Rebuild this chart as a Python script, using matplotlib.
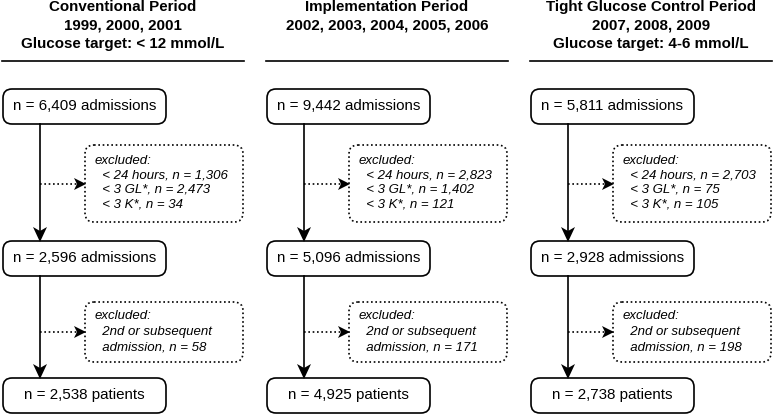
import matplotlib
matplotlib.use('Agg')
import numpy as np
import matplotlib.pyplot as plt
from matplotlib.patches import FancyBboxPatch

plt.rcParams['font.family'] = ['Liberation Sans', 'DejaVu Sans']

# ── data ─────────────────────────────────────────────
TITLES = [
    ['Conventional Period', '1999, 2000, 2001', 'Glucose target: < 12 mmol/L'],
    ['Implementation Period', '2002, 2003, 2004, 2005, 2006'],
    ['Tight Glucose Control Period', '2007, 2008, 2009', 'Glucose target: 4-6 mmol/L'],
]
N_START = ['6,409', '9,442', '5,811']
EXCL_24H = ['1,306', '2,823', '2,703']
EXCL_GL = ['2,473', '1,402', '75']
EXCL_K = ['34', '121', '105']
N_MID = ['2,596', '5,096', '2,928']
EXCL_READM = ['58', '171', '198']
N_END = ['2,538', '4,925', '2,738']

# ── layout (pixel coords) ────────────────────────────
W, H = 778, 416
fig = plt.figure(figsize=(W / 100, H / 100), dpi=100)
ax = fig.add_axes([0, 0, 1, 1])
ax.set_xlim(0, W); ax.set_ylim(H, 0); ax.axis('off')

COL_X = [3, 267, 531]
BOX_W, BOX_H = 163, 35
EX_DX, EX_W = 82, 158
LW = 1.2
DOT = (0, (1, 1.6))


def box(x, y, w, h, dotted=False):
    p = FancyBboxPatch((x, y), w, h, boxstyle='round,pad=0,rounding_size=9',
                       fc='white', ec='black', lw=LW, ls=DOT if dotted else '-')
    ax.add_patch(p)


def arrow(p0, p1, dotted=False, hl=15, hw=7, notch=4):
    # line + stealth-shaped head
    p0 = np.array(p0, float); p1 = np.array(p1, float)
    d = (p1 - p0) / np.linalg.norm(p1 - p0)
    n = np.array([-d[1], d[0]])
    base = p1 - d * hl
    ax.plot([p0[0], base[0] + d[0] * notch], [p0[1], base[1] + d[1] * notch],
            color='black', lw=LW, ls=DOT if dotted else '-', zorder=3)
    pts = np.array([p1, base + n * hw, base + d * notch, base - n * hw])
    ax.fill(pts[:, 0], pts[:, 1], color='black', lw=0, zorder=4)


for i, x0 in enumerate(COL_X):
    cx = x0 + 120
    for j, t in enumerate(TITLES[i]):
        ax.text(cx, 7 + j * 18.5, t, ha='center', va='center',
                fontsize=10.9, fontweight='bold')
    ax.plot([x0 - 1, x0 + 241], [61, 61], color='black', lw=LW)

    vx = x0 + 37
    # main boxes
    for yb, txt in [(89, f'n = {N_START[i]} admissions'),
                    (241, f'n = {N_MID[i]} admissions'),
                    (378, f'n = {N_END[i]} patients')]:
        box(x0, yb, BOX_W, BOX_H)
        ax.text(x0 + BOX_W / 2, yb + BOX_H / 2, txt, ha='center', va='center',
                fontsize=10.9)
    arrow((vx, 124), (vx, 242))
    arrow((vx, 276), (vx, 379))

    # exclusion boxes
    ex = x0 + EX_DX
    box(ex, 145, EX_W, 77, dotted=True)
    arrow((vx, 184), (ex + 1, 184), dotted=True, hl=12, hw=6, notch=3)
    lines = ['excluded:', f'  < 24 hours, n = {EXCL_24H[i]}',
             f'  < 3 GL*, n = {EXCL_GL[i]}', f'  < 3 K*, n = {EXCL_K[i]}']
    for k, t in enumerate(lines):
        ax.text(ex + 10, 161 + k * 14.5, t, ha='left', va='center',
                fontsize=9.5, style='italic')

    box(ex, 302, EX_W, 60, dotted=True)
    arrow((vx, 332), (ex + 1, 332), dotted=True, hl=12, hw=6, notch=3)
    lines = ['excluded:', '  2nd or subsequent',
             f'  admission, n = {EXCL_READM[i]}']
    for k, t in enumerate(lines):
        ax.text(ex + 10, 316 + k * 15.5, t, ha='left', va='center',
                fontsize=9.5, style='italic')

fig.savefig('out.png', dpi=100, facecolor='white')
